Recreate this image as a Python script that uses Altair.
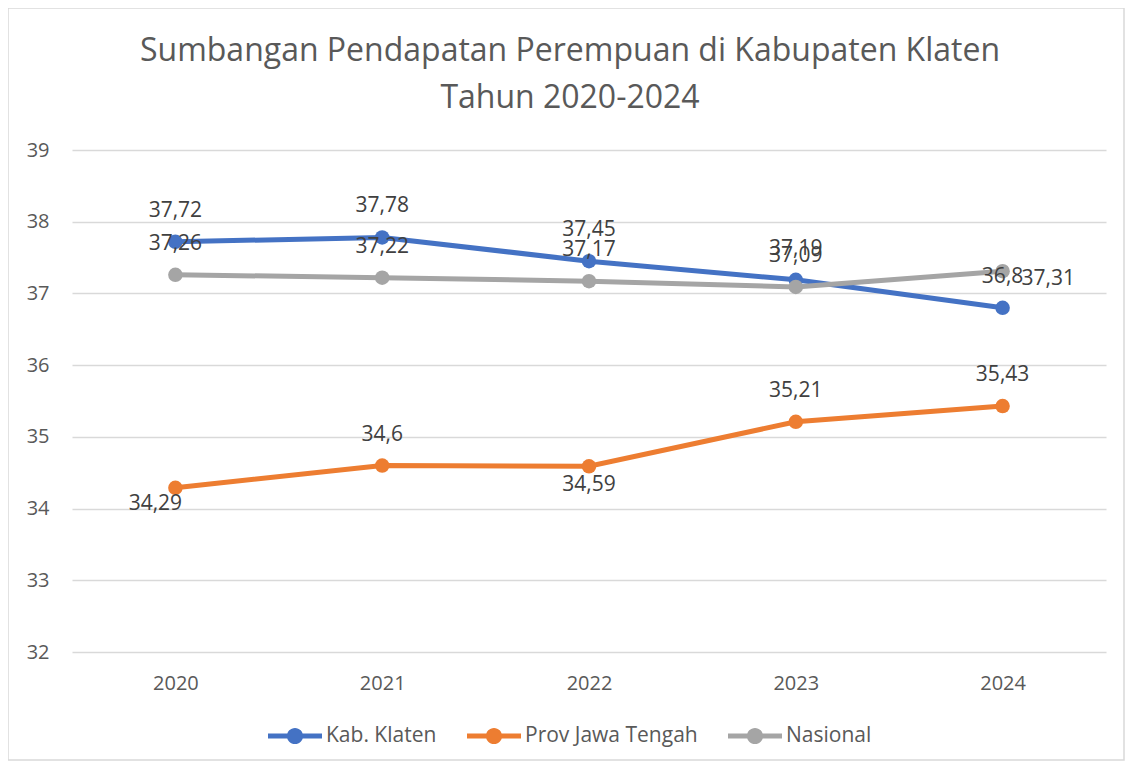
import altair as alt
import pandas as pd

years = ["2020", "2021", "2022", "2023", "2024"]
series_names = ["Kab. Klaten", "Prov Jawa Tengah", "Nasional"]
klaten = [37.72, 37.78, 37.45, 37.19, 36.8]
jateng = [34.29, 34.6, 34.59, 35.21, 35.43]
nasional = [37.26, 37.22, 37.17, 37.09, 37.31]
pos_klaten = ["above", "above", "above", "above", "above"]
pos_jateng = ["belowleft", "above", "below", "above", "above"]
pos_nasional = ["above", "above", "above", "above", "right"]
colors = ["#4472C4", "#ED7D31", "#A5A5A5"]
y_ticks = [32, 33, 34, 35, 36, 37, 38, 39]
title_lines = ["Sumbangan Pendapatan Perempuan di Kabupaten Klaten", "Tahun 2020-2024"]

rows = []
for name, vals, poss in zip(series_names, [klaten, jateng, nasional],
                            [pos_klaten, pos_jateng, pos_nasional]):
    for yr, v, p in zip(years, vals, poss):
        rows.append({"Tahun": yr, "Seri": name, "Nilai": v,
                     "Label": str(v).replace(".", ","), "Pos": p})
df = pd.DataFrame(rows)

FONT = "Open Sans"

x_enc = alt.X("Tahun:O", sort=years,
              scale=alt.Scale(type="point", padding=0.5),
              axis=alt.Axis(title=None, labelAngle=0, domain=False, ticks=False,
                            grid=False, labelPadding=21, labelFontSize=20,
                            labelColor="#595959", labelFont=FONT))
y_enc = alt.Y("Nilai:Q", scale=alt.Scale(domain=[32, 39], nice=False, zero=False),
              axis=alt.Axis(title=None, values=y_ticks, domain=False, ticks=False,
                            grid=True, gridColor="#d9d9d9", gridWidth=1.3,
                            labelPadding=23, labelFontSize=20,
                            labelColor="#595959", labelFont=FONT))
color_scale = alt.Scale(domain=series_names, range=colors)

legend_path = ("M-1,-0.09 L1,-0.09 L1,0.09 L-1,0.09 Z "
               "M0.3,0 A0.3,0.3 0 1,1 -0.3,0 A0.3,0.3 0 1,1 0.3,0 Z")
legend = alt.Legend(title=None, orient="none", direction="horizontal",
                    legendX=196, legendY=559,
                    symbolType=legend_path, symbolSize=2916,
                    symbolStrokeWidth=0, symbolOpacity=1,
                    labelFontSize=21, labelColor="#595959", labelLimit=0,
                    labelFont=FONT, labelOffset=4, columnPadding=30)
color_enc = alt.Color("Seri:N", scale=color_scale, sort=series_names, legend=legend)

base = alt.Chart(df)

lines = base.mark_line(strokeWidth=5).encode(
    x=x_enc, y=y_enc, color=color_enc,
)

points = base.mark_point(filled=True, size=210, opacity=1).encode(
    x=x_enc, y=y_enc, color=color_enc,
)

def labels(pos, dx, dy, align="center"):
    return base.transform_filter(alt.datum.Pos == pos).mark_text(
        fontSize=21, font=FONT, color="#404040", dx=dx, dy=dy, align=align,
        baseline="middle").encode(x=x_enc, y=y_enc, text="Label:N")

lab_above = labels("above", 0, -31)
lab_below = labels("below", 0, 19)
lab_belowleft = labels("belowleft", -20, 16)
lab_right = labels("right", 19, 8, "left")

title_df = pd.DataFrame({"t": title_lines, "i": [0, 1]})
title1 = alt.Chart(title_df).transform_filter(alt.datum.i == 0).mark_text(
    fontSize=32, font=FONT, color="#595959", align="center", baseline="middle").encode(
    x=alt.value(498), y=alt.value(-99), text="t:N")
title2 = alt.Chart(title_df).transform_filter(alt.datum.i == 1).mark_text(
    fontSize=32, font=FONT, color="#595959", align="center", baseline="middle").encode(
    x=alt.value(498), y=alt.value(-52), text="t:N")

border = alt.Chart(pd.DataFrame({"a": [0]})).mark_rect(
    fill=None, stroke="#d9d9d9", strokeWidth=1.5).encode(
    x=alt.value(-64), x2=alt.value(1052), y=alt.value(-142), y2=alt.value(610))

chart = alt.layer(border, title1, title2, lines, points,
                  lab_above, lab_below, lab_belowleft, lab_right).properties(
    width=1034, height=502,
    padding={"left": 64, "top": 142, "right": 19, "bottom": 109},
    autosize=alt.AutoSizeParams(type="none"),
).configure_view(stroke=None)

chart.save("out.html", embed_options={"renderer": "svg", "actions": False})
